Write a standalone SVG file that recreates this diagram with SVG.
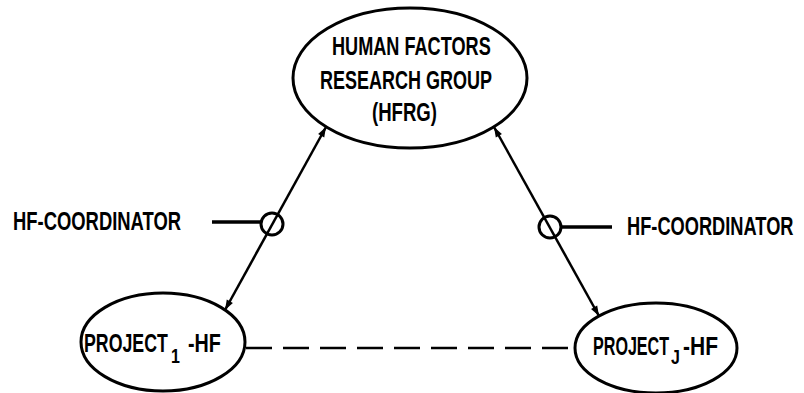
<svg xmlns="http://www.w3.org/2000/svg" width="804" height="393" viewBox="0 0 804 393">
<style>
.node{fill:#fff;stroke:#000;stroke-width:3}
.t{font-family:"Liberation Sans",Arial,sans-serif;font-weight:bold;font-size:25px;fill:#000}
.sub{font-family:"Liberation Sans",Arial,sans-serif;font-weight:bold;font-size:20px;fill:#000}
.link{stroke:#000;stroke-width:2.5;fill:none}
.coord{stroke:#000;stroke-width:3.5;fill:none}
.ring{stroke:#000;stroke-width:3;fill:none}
</style>
<defs>
<marker id="ah" viewBox="0 0 10 10" refX="10" refY="5" markerWidth="12" markerHeight="10" markerUnits="userSpaceOnUse" orient="auto-start-reverse">
<path d="M0,1.5 L10,5 L0,8.5 Z" fill="#000"/>
</marker>
</defs>
<rect width="804" height="393" fill="#fff"/>
<g id="connectors">
<line class="link" x1="326" y1="127" x2="225" y2="310" marker-start="url(#ah)" marker-end="url(#ah)"/>
<line class="link" x1="494" y1="127" x2="599" y2="316" marker-start="url(#ah)" marker-end="url(#ah)"/>
<line class="link" x1="246" y1="348" x2="576" y2="348" stroke-width="3.5" stroke-dasharray="26 11"/>
</g>
<g id="coordinator-left">
<line class="coord" x1="212" y1="222" x2="261" y2="222"/>
<circle class="ring" cx="272" cy="224" r="11"/>
<text class="t" transform="translate(13,230) scale(0.737,1)">HF-COORDINATOR</text>
</g>
<g id="coordinator-right">
<line class="coord" x1="561" y1="227" x2="612" y2="227"/>
<circle class="ring" cx="550" cy="227" r="11"/>
<text class="t" transform="translate(627,235) scale(0.73,1)">HF-COORDINATOR</text>
</g>
<g id="hfrg">
<ellipse class="node" cx="410" cy="78" rx="117" ry="70"/>
<text class="t" transform="translate(332,55) scale(0.725,1)">HUMAN FACTORS</text>
<text class="t" transform="translate(320,89) scale(0.72,1)">RESEARCH GROUP</text>
<text class="t" transform="translate(372,121) scale(0.743,1)">(HFRG)</text>
</g>
<g id="project1">
<ellipse class="node" cx="163" cy="342" rx="82" ry="49"/>
<text class="t" transform="translate(84,352) scale(0.71,1)">PROJECT</text>
<text class="sub" transform="translate(171,363) scale(0.8,1)">1</text>
<text class="t" transform="translate(188,352) scale(0.79,1)">-HF</text>
</g>
<g id="projectj">
<ellipse class="node" cx="656" cy="348" rx="81" ry="45"/>
<text class="t" transform="translate(593,355) scale(0.645,1)">PROJECT</text>
<text class="sub" transform="translate(671,364) scale(0.8,1)">J</text>
<text class="t" transform="translate(683,355) scale(0.84,1)">-HF</text>
</g>
</svg>
